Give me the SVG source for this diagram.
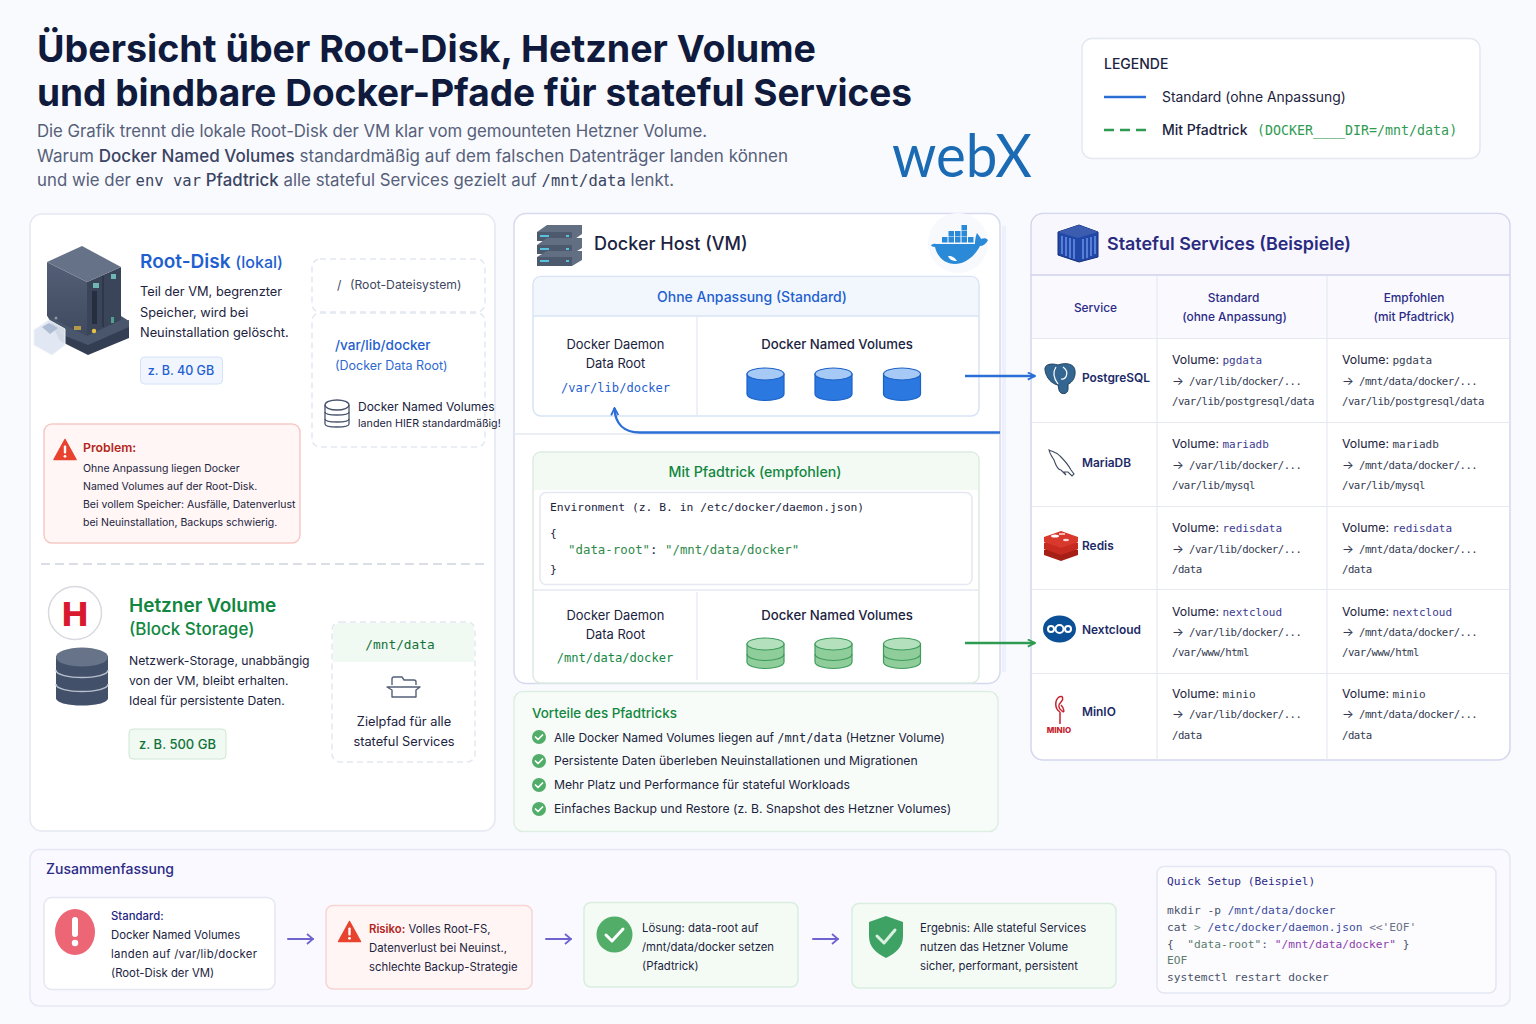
<svg xmlns="http://www.w3.org/2000/svg" width="1536" height="1024" viewBox="0 0 1536 1024">
<style>
text{font-family:Inter,"Liberation Sans",sans-serif;fill:#1c2340}
.m,.m tspan{font-family:"DejaVu Sans Mono","Liberation Mono",monospace}
.m .ar{font-family:Inter,"Liberation Sans",sans-serif;font-size:12.500px;letter-spacing:0}
.card{fill:#fff;stroke:#e4e8f1;stroke-width:1.5}
.dash{fill:#fff;stroke:#e3e7f0;stroke-width:1.5;stroke-dasharray:6 4}
.body{font-size:12.800px}
.bodyh{font-size:12.200px}
.sm{font-size:10.500px}
.tb{font-size:12.300px;fill:#1c2340}
.tc{font-size:10.700px;letter-spacing:-.52px;fill:#333a52}
.hd{font-size:11.900px;font-weight:500;fill:#2c2a86;text-anchor:middle}
.sv{font-size:11.900px;font-weight:600;fill:#1c2a68}
.sum{font-size:11.350px}
.mid{text-anchor:middle}
.c{font-size:11.200px;fill:#4a5268}
.gridl{stroke:#e6e9f2;stroke-width:1.2;fill:none}
.bluearr{stroke:#2b6fd6;stroke-width:2.400;fill:none}
.grnarr{stroke:#2f9a52;stroke-width:2.400;fill:none}
.purp{stroke:#6f63cf;stroke-width:2;fill:none;stroke-linecap:round;stroke-linejoin:round}
</style>
<defs>
<linearGradient id="bg" x1="0" y1="0" x2="1" y2="1"><stop offset="0" stop-color="#f8fafe"/><stop offset="1" stop-color="#f9fafe"/></linearGradient>
<linearGradient id="slate" x1="0" y1="0" x2="0" y2="1"><stop offset="0" stop-color="#535f76"/><stop offset="1" stop-color="#3f4a5f"/></linearGradient>
<g id="cylB"><path d="M-18.500 -10V10C-18.500 14 -9 16.500 0 16.500S18.500 14 18.500 10V-10Z" fill="#2b78e0" stroke="#1c62c6" stroke-width="1.200"/><ellipse cx="0" cy="-10" rx="18.500" ry="6" fill="#a6c9f6" stroke="#1c62c6" stroke-width="1.200"/></g>
<g id="cylG"><path d="M-18.500 -9V9C-18.500 13 -9 15.500 0 15.500S18.500 13 18.500 9V-9Z" fill="#8fcd9b" stroke="#3f9c5c" stroke-width="1.200"/><ellipse cx="0" cy="-9" rx="18.500" ry="6" fill="#b5e0bd" stroke="#3f9c5c" stroke-width="1.200"/><path d="M-18.500 1C-18.500 5 -9 7.500 0 7.500S18.500 5 18.500 1" fill="none" stroke="#3f9c5c" stroke-width="1.200"/></g>
<g id="ok"><circle r="7" fill="#52ad68"/><path d="M-3.500 0L-1 2.500L3.500 -2" fill="none" stroke="#fff" stroke-width="1.700" stroke-linecap="round" stroke-linejoin="round"/></g>
<g id="warn"><path d="M0 -10.500L11 9.500H-11Z" fill="#e8432f" stroke="#e8432f" stroke-width="1.500" stroke-linejoin="round"/><rect x="-1.200" y="-4.500" width="2.400" height="8" rx="1" fill="#fff"/><circle cy="6.300" r="1.400" fill="#fff"/></g>
<marker id="mb" viewBox="0 0 10 10" refX="9" refY="5" markerWidth="9" markerHeight="9" orient="auto" markerUnits="userSpaceOnUse"><path d="M1 1L9 5L1 9" fill="none" stroke="#2b6fd6" stroke-width="2"/></marker>
<marker id="mg" viewBox="0 0 10 10" refX="9" refY="5" markerWidth="9" markerHeight="9" orient="auto" markerUnits="userSpaceOnUse"><path d="M1 1L9 5L1 9" fill="none" stroke="#2f9a52" stroke-width="2"/></marker>
<marker id="mp" viewBox="0 0 12 12" refX="11" refY="6" markerWidth="12" markerHeight="12" orient="auto" markerUnits="userSpaceOnUse"><path d="M5 1L11 6L5 11" fill="none" stroke="#6f63cf" stroke-width="1.800"/></marker>
</defs>
<rect width="1536" height="1024" fill="url(#bg)"/>

<g id="header">
<text x="37" y="62" font-size="37.500" font-weight="700" textLength="779" lengthAdjust="spacingAndGlyphs" style="fill:#0f1a3c">Übersicht über Root-Disk, Hetzner Volume</text>
<text x="37" y="106" font-size="37.500" font-weight="700" textLength="875" lengthAdjust="spacingAndGlyphs" style="fill:#0f1a3c">und bindbare Docker-Pfade für stateful Services</text>
<text x="37" y="137" font-size="16.800" textLength="670" style="fill:#566079">Die Grafik trennt die lokale Root-Disk der VM klar vom gemounteten Hetzner Volume.</text>
<text x="37" y="162" font-size="17" textLength="751" style="fill:#566079">Warum <tspan font-weight="500" style="fill:#3b4462">Docker Named Volumes</tspan> standardmäßig auf dem falschen Datenträger landen können</text>
<text x="37" y="186" font-size="16.800" textLength="637" style="fill:#566079">und wie der <tspan class="m" font-size="15.500" style="fill:#3b4462">env var</tspan> <tspan font-weight="500" style="fill:#3b4462">Pfadtrick</tspan> alle stateful Services gezielt auf <tspan class="m" font-size="15.500" style="fill:#3b4462">/mnt/data</tspan> lenkt.</text>
</g>
<g id="logo"><text x="892" y="177" font-size="60" font-weight="400" textLength="140" lengthAdjust="spacingAndGlyphs" style="font-family:Lato,Inter,sans-serif;fill:#1a6bb3">webX</text></g>

<g id="legend">
<rect x="1082" y="38.500" width="398" height="120" rx="10" class="card"/>
<text x="1104" y="69" font-size="14" font-weight="500">LEGENDE</text>
<line x1="1104" y1="97" x2="1146" y2="97" stroke="#2b6fd6" stroke-width="2.500"/>
<text x="1162" y="102" font-size="13.900">Standard (ohne Anpassung)</text>
<line x1="1104" y1="130" x2="1146" y2="130" stroke="#2f9a52" stroke-width="2.500" stroke-dasharray="10 6"/>
<text x="1162" y="135" font-size="14" font-weight="500">Mit Pfadtrick</text>
<text x="1257" y="135" class="m" font-size="13.300" style="fill:#2f9a52">(DOCKER____DIR=/mnt/data)</text>
</g>

<g id="root-disk">
<rect x="30" y="214" width="465" height="617" rx="12" class="card"/>
<g id="server-icon">
<path d="M47 315L88 338L129 320V338L88 355L60 341Z" fill="#343e52"/>
<path d="M47 315L87 331L121 316L129 321V327L88 345L60 334Z" fill="#4a566b"/>
<path d="M47 262L87 282V336L47 316Z" fill="url(#slate)"/>
<path d="M87 282L121 267V320L87 336Z" fill="#3a455a"/>
<path d="M47 262L82 246L121 267L87 282Z" fill="#667287"/>
<path d="M103 276V327" stroke="#2c3546" stroke-width="1.500"/>
<rect x="93" y="283" width="6" height="5" fill="#6fb7b2"/><rect x="111" y="274" width="5" height="5" fill="#6fb7b2"/>
<rect x="92" y="291" width="5" height="33" fill="#262f40"/><rect x="111" y="317" width="3" height="6" fill="#4ba38c"/>
<circle cx="94" cy="331" r="2.200" fill="#e8c33f"/><circle cx="56" cy="318" r="1.500" fill="#8c96a8"/><rect x="74" y="326" width="7" height="4" fill="#b39a4a"/>
<path d="M34 330L49 320L65 329V345L52 355L34 345Z" fill="#dfe6f2" fill-opacity=".92" stroke="#eef2f8"/><path d="M42 327L49 323L58 328L50 334Z" fill="#aebdd3"/>
</g>
<text x="140" y="268" font-size="19" font-weight="600" style="fill:#1f5fd0">Root-Disk <tspan font-size="16" font-weight="500">(lokal)</tspan></text>
<text x="140" y="296" class="body">Teil der VM, begrenzter</text>
<text x="140" y="317" class="body">Speicher, wird bei</text>
<text x="140" y="337" class="body">Neuinstallation gelöscht.</text>
<rect x="140.500" y="357" width="82" height="27" rx="4" fill="#f0f5fe" stroke="#d5e2f8"/>
<text x="181" y="375" class="mid" font-size="12.500" font-weight="500" style="fill:#1f5fd0">z. B. 40 GB</text>
<rect x="312" y="259" width="173" height="53" rx="8" class="dash"/>
<text x="337" y="289" font-size="12.200" style="fill:#40485f">/</text>
<text x="350" y="289" font-size="12.200" style="fill:#40485f">(Root-Dateisystem)</text>
<rect x="312" y="313" width="173" height="134" rx="8" class="dash"/>
<text x="335" y="350" font-size="13.600" font-weight="500" style="fill:#1f5fd0">/var/lib/docker</text>
<text x="335" y="370" font-size="12.500" style="fill:#2f69cf">(Docker Data Root)</text>
<g id="db-small" fill="none" stroke="#47536d" stroke-width="1.300"><path d="M325 405V424C325 428 349 428 349 424V405"/><ellipse cx="337" cy="405" rx="12" ry="5"/><path d="M325 412C325 416 349 416 349 412M325 419C325 423 349 423 349 419"/></g>
<text x="358" y="411" font-size="12">Docker Named Volumes</text>
<text x="358" y="427" font-size="10.700">landen HIER standardmäßig!</text>
<rect x="44" y="424" width="256" height="119" rx="8" fill="#fff6f5" stroke="#f6c9c6" stroke-width="1.500"/>
<use href="#warn" x="65" y="450"/>
<text x="83" y="452" font-size="12.300" font-weight="600" style="fill:#b3261e">Problem:</text>
<text x="83" y="472" class="sm">Ohne Anpassung liegen Docker</text>
<text x="83" y="490" class="sm">Named Volumes auf der Root-Disk.</text>
<text x="83" y="508" class="sm">Bei vollem Speicher: Ausfälle, Datenverlust</text>
<text x="83" y="526" class="sm">bei Neuinstallation, Backups schwierig.</text>
<line x1="41" y1="564" x2="485" y2="564" stroke="#cfd4de" stroke-width="1.500" stroke-dasharray="9 5"/>
</g>

<g id="hetzner">
<circle cx="75" cy="613" r="26.500" fill="#fff" stroke="#d8dae0" stroke-width="1.500"/>
<text x="62" y="626" font-size="33" font-weight="800" textLength="26" lengthAdjust="spacingAndGlyphs" style="fill:#d9192e">H</text>
<g id="db-stack"><path d="M56 656V698C56 708 108 708 108 698V656Z" fill="#43506a"/><ellipse cx="82" cy="657" rx="26" ry="9.500" fill="#667389"/><path d="M56 670C56 680 108 680 108 670M56 684C56 694 108 694 108 684" fill="none" stroke="#b8c0cf" stroke-width="1.500"/></g>
<text x="129" y="612" font-size="19" font-weight="600" style="fill:#12873f">Hetzner Volume</text>
<text x="129" y="635" font-size="17" font-weight="500" style="fill:#12873f">(Block Storage)</text>
<text x="129" y="665" class="bodyh">Netzwerk-Storage, unabbängig</text>
<text x="129" y="685" class="bodyh">von der VM, bleibt erhalten.</text>
<text x="129" y="705" class="bodyh">Ideal für persistente Daten.</text>
<rect x="129" y="729" width="97" height="30" rx="4" fill="#f0f9f2" stroke="#cfe6d6"/>
<text x="177.500" y="749" class="mid" font-size="13" font-weight="500" style="fill:#12733a">z. B. 500 GB</text>
<rect x="332" y="622" width="143" height="140" rx="8" class="dash"/>
<path d="M333 662V630A7 7 0 0 1 340 623H467A7 7 0 0 1 474 630V662Z" fill="#f0f9f2"/>
<text x="400" y="649" class="m mid" font-size="12.800" style="fill:#12733a">/mnt/data</text>
<path d="M392 685V679Q392 677 394 677H402L404 680H414Q416 680 416 682V685M387 687H420L416 690V697H392V690Z" fill="none" stroke="#54607a" stroke-width="1.400" stroke-linejoin="round"/>
<text x="404" y="726" class="mid body">Zielpfad für alle</text>
<text x="404" y="746" class="mid body">stateful Services</text>
</g>

<g id="docker-host">
<path d="M1004 226V672" stroke="#eef1fb" stroke-width="4" fill="none"/>
<rect x="514" y="213.500" width="486" height="470" rx="12" fill="#fff" stroke="#d6daee" stroke-width="1.500"/>
<g id="host-icon">
<path d="M537 232L547 225H582V234L572 241H537Z" fill="#626e82"/><rect x="537" y="232" width="35" height="9" fill="#4d596d"/>
<path d="M537 245L547 238H582V248L572 254H537Z" fill="#626e82"/><rect x="537" y="245" width="35" height="9" fill="#4d596d"/>
<path d="M537 257L547 251H582V260L572 266H537Z" fill="#626e82"/><rect x="537" y="257" width="35" height="9" fill="#4d596d"/>
<g fill="#59c1dc"><rect x="540" y="235" width="9" height="2"/><rect x="540" y="248" width="9" height="2"/><rect x="540" y="260" width="9" height="2"/><rect x="566" y="235" width="3" height="2"/><rect x="566" y="248" width="3" height="2"/><rect x="566" y="260" width="3" height="2"/></g>
</g>
<text x="594" y="250" font-size="18" font-weight="500">Docker Host (VM)</text>
<circle cx="958" cy="243" r="30" fill="#f7f9fd"/>
<g id="whale">
<g fill="#2b8ad8"><rect x="942" y="237" width="5.500" height="5.500"/><rect x="948.500" y="237" width="5.500" height="5.500"/><rect x="955" y="237" width="5.500" height="5.500"/><rect x="961.500" y="237" width="5.500" height="5.500"/><rect x="968" y="237" width="5.500" height="5.500"/><rect x="948.500" y="231" width="5.500" height="5.500"/><rect x="955" y="231" width="5.500" height="5.500"/><rect x="961.500" y="231" width="5.500" height="5.500"/><rect x="961.500" y="225" width="5.500" height="5.500"/></g>
<path d="M931 245C934 243 936 244 937 244H975C975 240 976 235 977 233C979 236 981 238 981 239C984 238 986 238 988 240C986 244 983 246 980 246C975 256 965 264 955 264C944 264 937 256 935 247C933 247 931 246 931 245Z" fill="#2b8ad8"/>
<path d="M948 256C953 256 955 258 957 261C952 261 949 259 948 256Z" fill="#fff"/>
</g>
<g id="std-panel">
<rect x="533" y="276.500" width="446" height="139.500" rx="8" fill="#fff" stroke="#d8e3f5" stroke-width="1.500"/>
<path d="M534 316V284A7 7 0 0 1 541 277H971A7 7 0 0 1 978 284V316Z" fill="#f2f7fe"/>
<line x1="533" y1="316" x2="979" y2="316" stroke="#d8e3f5" stroke-width="1.500"/>
<line x1="697" y1="317" x2="697" y2="415" stroke="#e8edf6" stroke-width="1.500"/>
<text x="752" y="302" class="mid" font-size="14" font-weight="500" style="fill:#1f5fd0">Ohne Anpassung (Standard)</text>
<text x="615.500" y="349" class="mid" font-size="12.900">Docker Daemon</text>
<text x="615.500" y="368" class="mid" font-size="12.900">Data Root</text>
<text x="615.500" y="392" class="m mid" font-size="12.100" style="fill:#1f5fd0">/var/lib/docker</text>
<text x="837" y="349" class="mid" font-size="13.200" font-weight="500">Docker Named Volumes</text>
<use href="#cylB" x="765.500" y="384"/><use href="#cylB" x="833.500" y="384"/><use href="#cylB" x="902" y="384"/>
</g>
<line x1="514" y1="434" x2="1000" y2="434" stroke="#e6e9f2" stroke-width="1.500"/>
<g id="pfad-panel">
<rect x="533" y="452" width="446" height="231" rx="8" fill="#fff" stroke="#dcebe0" stroke-width="1.500"/>
<path d="M534 490V460A7 7 0 0 1 541 453H971A7 7 0 0 1 978 460V490Z" fill="#f3faf4"/>
<text x="755" y="477" class="mid" font-size="14.200" font-weight="500" style="fill:#12873f">Mit Pfadtrick (empfohlen)</text>
<rect x="540" y="492.500" width="432" height="92" rx="6" fill="#fff" stroke="#e5e8f0" stroke-width="1.500"/>
<text x="550" y="511" class="m" font-size="11.350">Environment (z. B. in /etc/docker/daemon.json)</text>
<text x="550" y="537" class="m" font-size="11.350">{</text>
<text x="568" y="554" class="m" font-size="12.400"><tspan style="fill:#2f8a4a">"data-root"</tspan>: <tspan style="fill:#2f8a4a">"/mnt/data/docker"</tspan></text>
<text x="550" y="573" class="m" font-size="11.350">}</text>
<line x1="533" y1="590" x2="979" y2="590" stroke="#e5e8f0" stroke-width="1.500"/>
<line x1="697" y1="592" x2="697" y2="680" stroke="#e8edf6" stroke-width="1.500"/>
<text x="615.500" y="620" class="mid" font-size="12.900">Docker Daemon</text>
<text x="615.500" y="639" class="mid" font-size="12.900">Data Root</text>
<text x="615" y="662" class="m mid" font-size="12.100" font-weight="500" style="fill:#12873f">/mnt/data/docker</text>
<text x="837" y="620" class="mid" font-size="13.200" font-weight="500">Docker Named Volumes</text>
<use href="#cylG" x="765.500" y="653"/><use href="#cylG" x="833.500" y="653"/><use href="#cylG" x="902" y="653"/>
</g>
</g>

<g id="benefits">
<rect x="514" y="691.500" width="484" height="140" rx="9" fill="#f7fcf8" stroke="#dfeee3" stroke-width="1.500"/>
<text x="532" y="718" font-size="13.400" font-weight="500" style="fill:#12873f">Vorteile des Pfadtricks</text>
<use href="#ok" x="539" y="737"/><text x="554" y="742" font-size="12" textLength="391">Alle Docker Named Volumes liegen auf <tspan class="m" font-size="12">/mnt/data</tspan> (Hetzner Volume)</text>
<use href="#ok" x="539" y="761"/><text x="554" y="765" font-size="12.200">Persistente Daten überleben Neuinstallationen und Migrationen</text>
<use href="#ok" x="539" y="785"/><text x="554" y="789" font-size="12.200">Mehr Platz und Performance für stateful Workloads</text>
<use href="#ok" x="539" y="809"/><text x="554" y="813" font-size="12.200">Einfaches Backup und Restore (z. B. Snapshot des Hetzner Volumes)</text>
</g>

<g id="services">
<rect x="1031" y="213.500" width="479" height="546.500" rx="12" fill="#fff" stroke="#d4d6ee" stroke-width="1.500"/>
<path d="M1032 275V226A12 12 0 0 1 1044 214.500H1497A12 12 0 0 1 1509 226V275Z" fill="#f7f7fd"/>
<rect x="1032" y="276" width="477" height="62" fill="#fafafe"/>
<line x1="1031" y1="275" x2="1510" y2="275" stroke="#cfd1ec" stroke-width="1.500"/>
<g class="gridl"><path d="M1031 338.500H1510M1031 422.500H1510M1031 506.500H1510M1031 589.500H1510M1031 673.500H1510M1157 276V760M1327 276V760"/></g>
<g id="container-icon"><path d="M1058 232L1079 225L1098 232V257L1079 262L1058 255Z" fill="#2148a8" stroke="#162f78"/><path d="M1058 232L1079 225L1098 232L1078 238Z" fill="#3c5cb0"/><path d="M1062 236V254M1066 237V256M1070 238V258M1074 239V259M1083 239V259M1087 238V258M1091 237V256M1095 236V254" stroke="#6f97e8" stroke-width="1.400" fill="none"/></g>
<text x="1107" y="250" font-size="17.900" font-weight="600" style="fill:#2a2b80">Stateful Services (Beispiele)</text>
<text x="1095.500" y="312" class="hd">Service</text>
<text x="1233.500" y="302" class="hd">Standard</text><text x="1234.500" y="321" class="hd">(ohne Anpassung)</text>
<text x="1414" y="302" class="hd">Empfohlen</text><text x="1414" y="321" class="hd">(mit Pfadtrick)</text>

<g id="postgresql"><path d="M1045 370C1044 364 1052 363 1058 365C1066 362 1075 364 1075 371C1076 379 1070 384 1068 384V389C1068 395 1060 395 1059 390L1058 385C1052 384 1046 378 1045 370Z" fill="#336791" stroke="#23415f"/><path d="M1056 367C1052 373 1055 380 1058 384M1063 367C1070 372 1066 380 1061 379" fill="none" stroke="#fff" stroke-width="1.200"/><text x="1082" y="382" class="sv">PostgreSQL</text></g>
<g id="mariadb"><path d="M1049 450C1053 452 1057 452 1060 456C1064 460 1068 464 1071 470L1074 474L1072 476L1068 472H1064L1066 475L1061 470C1058 470 1056 466 1054 460C1052 456 1050 455 1049 450Z" fill="none" stroke="#3e4a5e" stroke-width="1.100"/><text x="1082" y="467" class="sv">MariaDB</text></g>
<g id="redis"><path d="M1044 550L1061 543L1078 550V555L1061 561L1044 555Z" fill="#a51f17"/><path d="M1044 543L1061 536L1078 543V549L1061 555L1044 549Z" fill="#c62a20"/><path d="M1044 537L1061 531L1078 537V542L1061 548L1044 542Z" fill="#d9382c"/><ellipse cx="1055" cy="536" rx="4" ry="1.600" fill="#fff"/><rect x="1059" y="533" width="6" height="2" fill="#f4b7b1"/><ellipse cx="1066" cy="540" rx="3" ry="1.300" fill="#f4d7d4"/><text x="1082" y="550" class="sv">Redis</text></g>
<g id="nextcloud"><ellipse cx="1059.500" cy="629" rx="16.500" ry="13.500" fill="#0b4f96"/><g fill="none" stroke="#fff" stroke-width="2"><circle cx="1051" cy="629" r="3"/><circle cx="1059.500" cy="629" r="4"/><circle cx="1068" cy="629" r="3"/></g><text x="1082" y="634" class="sv">Nextcloud</text></g>
<g id="minio"><path d="M1060 724V712M1060 712C1054 708 1055 700 1059 697C1063 695 1064 699 1061 702C1058 705 1058 708 1062 711C1065 714 1064 708 1061 705" fill="none" stroke="#c5232e" stroke-width="1.500"/><text x="1059" y="732.500" class="mid" font-size="8" font-weight="800" style="fill:#c5232e">MINIO</text><text x="1082" y="716" class="sv">MinIO</text></g>

<g id="rows">
<text x="1172" y="364" class="tb">Volume: <tspan class="m" font-size="11" style="fill:#3c3a90">pgdata</tspan></text>
<text x="1172" y="385" class="tc m"><tspan class="ar">→</tspan><tspan x="1189">/var/lib/docker/...</tspan></text>
<text x="1172" y="405" class="tc m">/var/lib/postgresql/data</text>
<text x="1342" y="364" class="tb">Volume: <tspan class="m" font-size="11" style="fill:#333a52">pgdata</tspan></text>
<text x="1342" y="385" class="tc m"><tspan class="ar">→</tspan><tspan x="1359">/mnt/data/docker/...</tspan></text>
<text x="1342" y="405" class="tc m">/var/lib/postgresql/data</text>
<text x="1172" y="448" class="tb">Volume: <tspan class="m" font-size="11" style="fill:#3c3a90">mariadb</tspan></text>
<text x="1172" y="469" class="tc m"><tspan class="ar">→</tspan><tspan x="1189">/var/lib/docker/...</tspan></text>
<text x="1172" y="489" class="tc m">/var/lib/mysql</text>
<text x="1342" y="448" class="tb">Volume: <tspan class="m" font-size="11" style="fill:#333a52">mariadb</tspan></text>
<text x="1342" y="469" class="tc m"><tspan class="ar">→</tspan><tspan x="1359">/mnt/data/docker/...</tspan></text>
<text x="1342" y="489" class="tc m">/var/lib/mysql</text>
<text x="1172" y="532" class="tb">Volume: <tspan class="m" font-size="11" style="fill:#3c3a90">redisdata</tspan></text>
<text x="1172" y="553" class="tc m"><tspan class="ar">→</tspan><tspan x="1189">/var/lib/docker/...</tspan></text>
<text x="1172" y="573" class="tc m">/data</text>
<text x="1342" y="532" class="tb">Volume: <tspan class="m" font-size="11" style="fill:#3c3a90">redisdata</tspan></text>
<text x="1342" y="553" class="tc m"><tspan class="ar">→</tspan><tspan x="1359">/mnt/data/docker/...</tspan></text>
<text x="1342" y="573" class="tc m">/data</text>
<text x="1172" y="616" class="tb">Volume: <tspan class="m" font-size="11" style="fill:#3c3a90">nextcloud</tspan></text>
<text x="1172" y="636" class="tc m"><tspan class="ar">→</tspan><tspan x="1189">/var/lib/docker/...</tspan></text>
<text x="1172" y="656" class="tc m">/var/www/html</text>
<text x="1342" y="616" class="tb">Volume: <tspan class="m" font-size="11" style="fill:#3c3a90">nextcloud</tspan></text>
<text x="1342" y="636" class="tc m"><tspan class="ar">→</tspan><tspan x="1359">/mnt/data/docker/...</tspan></text>
<text x="1342" y="656" class="tc m">/var/www/html</text>
<text x="1172" y="698" class="tb">Volume: <tspan class="m" font-size="11" style="fill:#333a52">minio</tspan></text>
<text x="1172" y="718" class="tc m"><tspan class="ar">→</tspan><tspan x="1189">/var/lib/docker/...</tspan></text>
<text x="1172" y="739" class="tc m">/data</text>
<text x="1342" y="698" class="tb">Volume: <tspan class="m" font-size="11" style="fill:#333a52">minio</tspan></text>
<text x="1342" y="718" class="tc m"><tspan class="ar">→</tspan><tspan x="1359">/mnt/data/docker/...</tspan></text>
<text x="1342" y="739" class="tc m">/data</text>
</g>
</g>

<g id="summary">
<rect x="30" y="849.500" width="1480" height="156.500" rx="9" fill="#f9f9ff" stroke="#e6e7f4" stroke-width="1.500"/>
<text x="46" y="874" font-size="14" font-weight="500" style="fill:#2c2a86">Zusammenfassung</text>
<g id="s1"><rect x="44" y="897.500" width="231" height="92" rx="8" class="card"/>
<ellipse cx="75" cy="932" rx="20" ry="23" fill="#ed6675"/><rect x="72" y="917" width="6" height="20" rx="3" fill="#fff"/><circle cx="75" cy="943" r="3.200" fill="#fff"/>
<text x="111" y="920" class="sum" font-weight="500" style="fill:#1f1f80">Standard:</text>
<text x="111" y="939" class="sum">Docker Named Volumes</text>
<text x="111" y="958" class="sum" textLength="146">landen auf /var/lib/docker</text>
<text x="111" y="977" class="sum">(Root-Disk der VM)</text></g>
<g id="s2"><rect x="326" y="905.500" width="206" height="83.500" rx="7" fill="#fff5f4" stroke="#f8d5d2" stroke-width="1.500"/>
<use href="#warn" x="349.500" y="932"/>
<text x="369" y="933" class="sum"><tspan font-weight="600" style="fill:#b3261e">Risiko:</tspan> Volles Root-FS,</text>
<text x="369" y="952" class="sum">Datenverlust bei Neuinst.,</text>
<text x="369" y="971" class="sum">schlechte Backup-Strategie</text></g>
<g id="s3"><rect x="584" y="902.500" width="214" height="84.500" rx="7" fill="#f4fbf5" stroke="#d9eedf" stroke-width="1.500"/>
<circle cx="614.500" cy="934.500" r="18" fill="#52ad68"/><path d="M606 935L612 941L623 929" fill="none" stroke="#fff" stroke-width="3" stroke-linecap="round" stroke-linejoin="round"/>
<text x="642" y="932" class="sum">Lösung: data-root auf</text>
<text x="642" y="951" class="sum">/mnt/data/docker setzen</text>
<text x="642" y="970" class="sum">(Pfadtrick)</text></g>
<g id="s4"><rect x="852" y="903.500" width="264" height="84.500" rx="7" fill="#f4fbf5" stroke="#d9eedf" stroke-width="1.500"/>
<path d="M886 916L903 922V936C903 947 896 953 886 958C876 953 869 947 869 936V922Z" fill="#3fa265"/><path d="M877 936L884 943L895 930" fill="none" stroke="#d9f0df" stroke-width="3" stroke-linecap="round" stroke-linejoin="round"/>
<text x="920" y="932" class="sum">Ergebnis: Alle stateful Services</text>
<text x="920" y="951" class="sum">nutzen das Hetzner Volume</text>
<text x="920" y="970" class="sum">sicher, performant, persistent</text></g>
<g id="quick"><rect x="1157" y="866.500" width="339" height="126.500" rx="7" fill="#fcfcff" stroke="#e4e6f2" stroke-width="1.500"/>
<text x="1167" y="885" class="m" font-size="11.200" font-weight="500" style="fill:#2c2a86">Quick Setup (Beispiel)</text>
<text x="1167" y="914" class="c m">mkdir -p <tspan style="fill:#3b4a9c">/mnt/data/docker</tspan></text>
<text x="1167" y="931" class="c m">cat <tspan style="fill:#6f8a80">&gt;</tspan> <tspan style="fill:#3b4a9c">/etc/docker/daemon.json</tspan> <tspan style="fill:#6a7186">&lt;&lt;'EOF'</tspan></text>
<text x="1167" y="948" class="c m">{&#160; <tspan style="fill:#5b7a6c">"data-root"</tspan>: <tspan style="fill:#8e3dac">"/mnt/data/docker"</tspan> }</text>
<text x="1167" y="964" class="c m" style="fill:#5b7a6c">EOF</text>
<text x="1167" y="981" class="c m">systemctl restart docker</text></g>
</g>

<g id="connectors">
<path class="bluearr" d="M1000 432.500H640C624 432.500 615 424 614.500 408" marker-end="url(#mb)"/>
<path class="bluearr" d="M965 376H1035" marker-end="url(#mb)"/>
<path class="grnarr" d="M965 643H1035" marker-end="url(#mg)"/>
<path class="purp" d="M288 939H313" marker-end="url(#mp)"/>
<path class="purp" d="M546 939H571" marker-end="url(#mp)"/>
<path class="purp" d="M813 939H838" marker-end="url(#mp)"/>
</g>
</svg>
